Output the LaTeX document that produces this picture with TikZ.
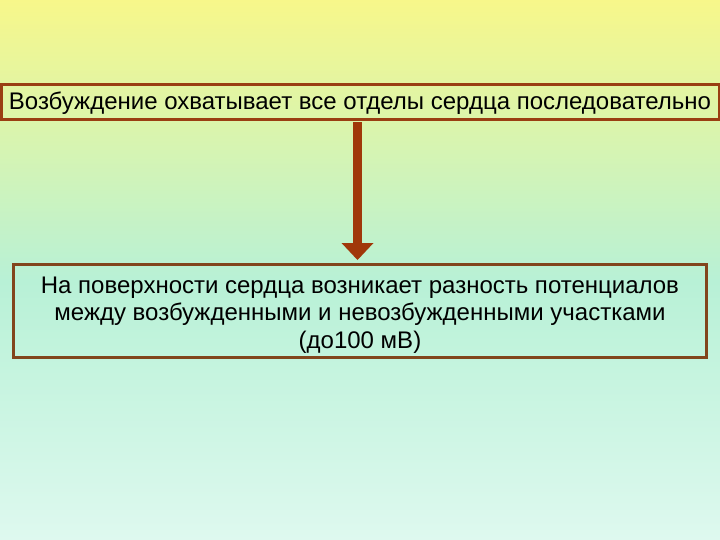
\documentclass[tikz,border=0pt]{standalone}
\usepackage{fontspec}
\setmainfont{Liberation Sans}
\definecolor{bgtop}{HTML}{F7F78A}
\definecolor{bgmid}{HTML}{B8F1D6}
\definecolor{bgbot}{HTML}{DEF9EF}
\definecolor{boxline}{HTML}{9A3E12}
\definecolor{boxline2}{HTML}{82451C}
\definecolor{arrowcol}{HTML}{A0380A}
\pgfdeclareverticalshading{bgshade}{100bp}{color(0bp)=(bgbot); color(25bp)=(bgbot); color(49bp)=(bgmid); color(75bp)=(bgtop); color(100bp)=(bgtop)}
\begin{document}
\begin{tikzpicture}[x=1pt,y=-1pt,
  txtbox/.style={draw=boxline, line width=3pt, inner sep=0pt, font=\fontsize{24}{27.5}\selectfont, align=center}]
\useasboundingbox (0,0) rectangle (720,540);
\shade[shading=bgshade] (0,0) rectangle (720,540);
\node[txtbox, minimum width=718pt, minimum height=35pt] (top) at (360,102) {\rule{0pt}{20pt}Возбуждение охватывает все отделы сердца последовательно};
\node[txtbox, draw=boxline2, minimum width=693pt, minimum height=93pt] (bot) at (360,311) {\rule{0pt}{24pt}На поверхности сердца возникает разность потенциалов\\между возбужденными и невозбужденными участками\\(до100 мВ)};
\coordinate (s) at ([xshift=-2.5pt,yshift=-1pt]top.south);
\coordinate (t) at ([xshift=-2.5pt,yshift=3pt]bot.north);
\coordinate (h) at ([yshift=17pt]t);
\fill[arrowcol] ([xshift=-4.5pt]s) rectangle ([xshift=4.5pt,yshift=-1pt]h);
\fill[arrowcol] ([xshift=-16pt]h) -- ([xshift=16pt]h) -- (t) -- cycle;
\end{tikzpicture}
\end{document}
